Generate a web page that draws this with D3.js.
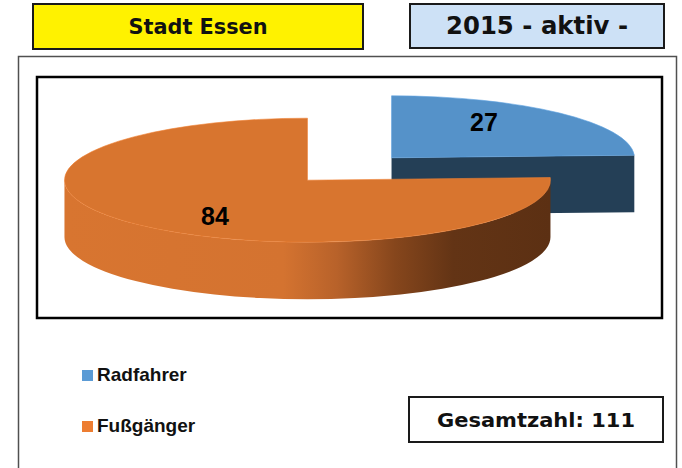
<!DOCTYPE html>
<html lang="de">
<head>
    <meta charset="UTF-8">
    <title>Stadt Essen 2015 - aktiv -</title>
    <script src="https://d3js.org/d3.v7.min.js"></script>
    <style>
        body { margin: 0; background: #fff; }
        svg { display: block; }
        .head { font-family: "DejaVu Sans", Verdana, sans-serif; font-weight: bold; fill: #111; }
        .lbl { font-family: "Liberation Sans", Arial, sans-serif; font-weight: bold; font-size: 25px; fill: #000; }
        .leg { font-family: "Liberation Sans", Arial, sans-serif; font-weight: bold; font-size: 19px; fill: #111; }
    </style>
</head>
<body>
    <script>
        // data
        const categories = ["Radfahrer", "Fußgänger"];
        const values = [27, 84];
        const title = "Stadt Essen";
        const subtitle = "2015 - aktiv -";
        const totalLabel = "Gesamtzahl: ";

        const topColors = ["#5592c9", "#d8752f"];
        const faceColors = ["#243f56", "#5c3013"];
        const legendColors = ["#5b9bd5", "#ed7d31"];

        const width = 682, height = 468;
        const svg = d3.select("body").append("svg")
            .attr("width", width)
            .attr("height", height);

        // header boxes
        function headBox(x, y, w, h, fill, txt, size, len) {
            svg.append("rect")
                .attr("x", x).attr("y", y).attr("width", w).attr("height", h)
                .attr("fill", fill).attr("stroke", "#1a1a1a").attr("stroke-width", 2);
            svg.append("text")
                .attr("class", "head")
                .attr("x", x + w / 2).attr("y", y + h / 2)
                .attr("text-anchor", "middle")
                .attr("dominant-baseline", "central")
                .attr("textLength", len)
                .attr("lengthAdjust", "spacingAndGlyphs")
                .style("font-size", size + "px")
                .text(txt);
        }
        headBox(33, 4, 330, 45, "#fff200", title, 21, 139);
        headBox(410, 4, 254, 44, "#cde1f6", subtitle, 24, 182);

        // outer chart frame
        svg.append("rect")
            .attr("x", 18.5).attr("y", 56.5).attr("width", 658).attr("height", 430)
            .attr("fill", "none").attr("stroke", "#505050").attr("stroke-width", 1.5);

        // plot frame
        const plot = {x: 37, y: 77, w: 625, h: 241};
        svg.append("rect")
            .attr("x", plot.x).attr("y", plot.y).attr("width", plot.w).attr("height", plot.h)
            .attr("fill", "none").attr("stroke", "#000").attr("stroke-width", 2.5);

        // 3d pie
        const rx = 243, ry = 62, depth = 57, explode = 0.5;
        const pie = d3.pie().sort(null).value(d => d)(values);
        const slices = pie.map((p, i) => {
            const mid = (p.startAngle + p.endAngle) / 2;
            const off = i === 0 ? explode : 0;
            return {i, a0: p.startAngle, a1: p.endAngle, mid,
                dx: off * rx * Math.sin(mid), dy: -off * ry * Math.cos(mid), value: p.value};
        });
        const ex = d3.max(slices, s => s.dx), ey = d3.min(slices, s => s.dy);
        const cx = plot.x + plot.w / 2 - ex / 2;
        const cy = plot.y + plot.h / 2 - (depth + ey) / 2;

        const pt = (s, a, r = 1, z = 0) => [cx + s.dx + rx * r * Math.sin(a), cy + s.dy - ry * r * Math.cos(a) + z];

        function topPath(s) {
            const p0 = pt(s, s.a0), p1 = pt(s, s.a1);
            const large = s.a1 - s.a0 > Math.PI ? 1 : 0;
            return `M${cx + s.dx},${cy + s.dy}L${p0}A${rx},${ry} 0 ${large} 1 ${p1}Z`;
        }
        function wallPath(s) {
            const b0 = Math.max(s.a0, Math.PI / 2), b1 = Math.min(s.a1, 3 * Math.PI / 2);
            if (b1 <= b0) return null;
            const p0 = pt(s, b0), p1 = pt(s, b1), q1 = pt(s, b1, 1, depth), q0 = pt(s, b0, 1, depth);
            return `M${p0}A${rx},${ry} 0 0 1 ${p1}L${q1}A${rx},${ry} 0 0 0 ${q0}Z`;
        }
        function facePath(s, a) {
            const c = [cx + s.dx, cy + s.dy], p = pt(s, a);
            return `M${c}L${p}L${p[0]},${p[1] + depth}L${c[0]},${c[1] + depth}Z`;
        }

        const defs = svg.append("defs");
        const grad = defs.append("linearGradient")
            .attr("id", "wallGrad")
            .attr("gradientUnits", "userSpaceOnUse")
            .attr("x1", cx - rx).attr("x2", cx + rx).attr("y1", 0).attr("y2", 0);
        [[0, "#d87530"], [0.45, "#d47330"], [0.56, "#b8622a"], [0.68, "#86461c"], [0.8, "#633415"], [1, "#5c3013"]]
            .forEach(([o, c]) => grad.append("stop").attr("offset", o).attr("stop-color", c));

        const order = slices.slice().sort((a, b) => a.dy - b.dy);
        const gPie = svg.append("g");
        order.forEach(s => {
            const g = gPie.append("g");
            if (Math.sin(s.a1) > 0.001) g.append("path").attr("d", facePath(s, s.a1)).attr("fill", faceColors[s.i]);
            if (Math.sin(s.a0) < -0.001) g.append("path").attr("d", facePath(s, s.a0)).attr("fill", faceColors[s.i]);
            const w = wallPath(s);
            if (w) g.append("path").attr("d", w).attr("fill", "url(#wallGrad)");
            g.append("path").attr("d", topPath(s)).attr("fill", topColors[s.i])
                .attr("stroke", d3.color(topColors[s.i]).brighter(0.3)).attr("stroke-width", 0.6);
        });

        // value labels
        svg.selectAll(".lbl")
            .data(slices)
            .join("text")
            .attr("class", "lbl")
            .attr("x", s => cx + s.dx + 0.55 * rx * Math.sin(s.mid))
            .attr("y", s => cy + s.dy - 0.8 * ry * Math.cos(s.mid))
            .attr("text-anchor", "middle")
            .attr("dominant-baseline", "central")
            .text(s => s.value);

        // legend
        const legY = d3.scalePoint().domain(categories).range([381, 432]);
        const leg = svg.selectAll(".legitem")
            .data(categories)
            .join("g")
            .attr("transform", d => `translate(82,${legY(d)})`);
        leg.append("rect")
            .attr("x", 0).attr("y", -11).attr("width", 11).attr("height", 11)
            .attr("fill", (d, i) => legendColors[i]);
        leg.append("text")
            .attr("class", "leg")
            .attr("x", 15).attr("y", 0)
            .text(d => d);

        // total box
        svg.append("rect")
            .attr("x", 409).attr("y", 397).attr("width", 254).attr("height", 45)
            .attr("fill", "#fff").attr("stroke", "#1a1a1a").attr("stroke-width", 2);
        svg.append("text")
            .attr("class", "head")
            .attr("x", 536).attr("y", 420)
            .attr("text-anchor", "middle")
            .attr("dominant-baseline", "central")
            .attr("textLength", 198)
            .attr("lengthAdjust", "spacingAndGlyphs")
            .style("font-size", "19px")
            .text(totalLabel + d3.sum(values));
    </script>
</body>
</html>
